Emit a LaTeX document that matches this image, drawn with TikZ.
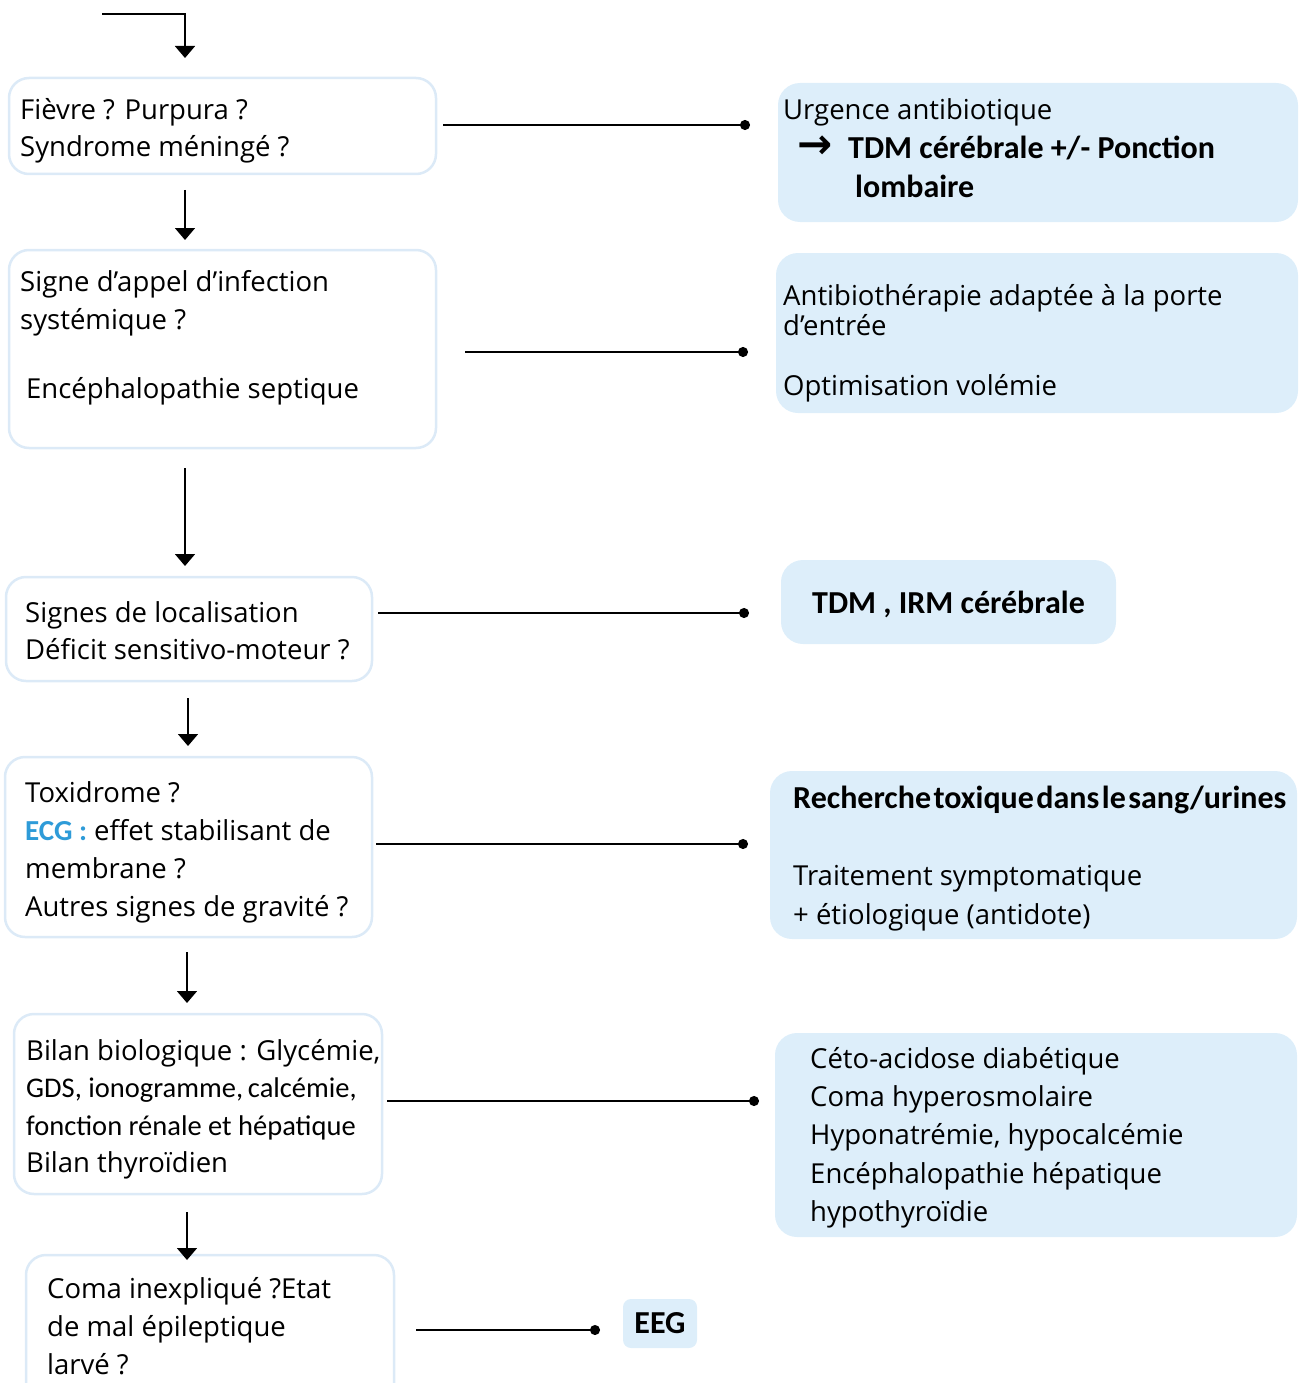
\documentclass[tikz,border=0pt]{standalone}
\usepackage{fontspec}
\setmainfont{Open Sans}
\newfontfamily\calfont{Carlito}
\newfontfamily\symfont{DejaVu Sans}
\usetikzlibrary{arrows.meta}
\definecolor{edgeblue}{HTML}{DCEAF7}
\definecolor{fillblue}{HTML}{DDEEFA}
\definecolor{ecgblue}{HTML}{2E9BD8}
\tikzset{
  qbox/.style={draw=edgeblue, line width=2.5pt, fill=white, rounded corners=20pt, inner sep=0pt},
  abox/.style={fill=fillblue, rounded corners=22pt, inner sep=0pt},
  txt/.style={anchor=base west, inner sep=0pt, font=\fontsize{27.5}{33}\selectfont},
  ctxt/.style={anchor=base west, inner sep=0pt, font=\calfont\fontsize{28.5}{33}\selectfont},
  btxt/.style={anchor=base west, inner sep=0pt, font=\calfont\bfseries\fontsize{32}{36}\selectfont},
  down/.style={line width=1.7pt, -{Triangle[width=20pt,length=12pt]}},
  conn/.style={line width=1.7pt, -{Circle[length=10pt]}},
}
\begin{document}
\begin{tikzpicture}[x=1pt,y=-1pt]
\useasboundingbox (0,0) rectangle (1301,1383);

% question boxes (left column)
\node[qbox, minimum width=427pt, minimum height=96pt]  (q1) at (222.5,126) {};
\node[qbox, minimum width=427pt, minimum height=198pt] (q2) at (222.5,349) {};
\node[qbox, minimum width=366pt, minimum height=104pt] (q3) at (189,629) {};
\node[qbox, minimum width=367pt, minimum height=180pt] (q4) at (188.5,847) {};
\node[qbox, minimum width=368pt, minimum height=180pt] (q5) at (198,1104) {};
\node[qbox, minimum width=368pt, minimum height=150pt] (q6) at (210,1330) {};

% answer boxes (right column)
\node[abox, minimum width=520pt, minimum height=139pt] (a1) at (1038,152.5) {};
\node[abox, minimum width=522pt, minimum height=160pt] (a2) at (1037,333) {};
\node[abox, minimum width=335pt, minimum height=84pt]  (a3) at (948.5,602) {};
\node[abox, minimum width=527pt, minimum height=168pt] (a4) at (1033.5,855) {};
\node[abox, minimum width=522pt, minimum height=204pt] (a5) at (1036,1135) {};
\node[abox, minimum width=74pt, minimum height=49pt, rounded corners=8pt] (a6) at (660,1323.5) {};

% texts of the question boxes
\node[txt] (t1a) at (20,120) {Fièvre ? Purpura ?};
\node[txt] (t1b) at (20,157) {Syndrome méningé ?};
\node[txt] (t2a) at (20,291) {Signe d’appel d’infection};
\node[txt] (t2b) at (20,329) {systémique ?};
\node[txt] (t2c) at (26,398) {Encéphalopathie septique};
\node[txt] (t3a) at (25,622) {Signes de localisation};
\node[txt] (t3b) at (25,659) {Déficit sensitivo-moteur ?};
\node[txt] (t4a) at (25,802) {Toxidrome ?};
\node[txt] (t4b) at (25,840) {{\calfont\bfseries\fontsize{29}{33}\selectfont\color{ecgblue}ECG :} effet stabilisant de};
\node[txt] (t4c) at (25,878) {membrane ?};
\node[txt] (t4d) at (25,916) {Autres signes de gravité ?};
\node[txt] (t5a) at (26,1060) {Bilan biologique : Glycémie,};
\node[ctxt] (t5b) at (26,1097) {GDS, ionogramme,\,calcémie,};
\node[ctxt] (t5c) at (26,1135) {fonction rénale et hépatique};
\node[txt] (t5d) at (26,1172) {Bilan thyroïdien};
\node[txt] (t6a) at (47,1298) {Coma inexpliqué ?Etat};
\node[txt] (t6b) at (47,1336) {de mal épileptique};
\node[txt] (t6c) at (47,1374) {larvé ?};

% texts of the answer boxes
\node[txt] (u1a) at (783,120) {Urgence antibiotique};
\node[anchor=base west, inner sep=0pt, font=\symfont\bfseries\fontsize{42}{44}\selectfont] (u1r) at (797,159) {→};
\node[btxt] (u1b) at (848,159) {TDM cérébrale +/- Ponction};
\node[btxt] (u1c) at (855,197) {lombaire};
\node[txt] (u2a) at (783,305) {Antibiothérapie adaptée à la porte};
\node[txt] (u2b) at (783,335) {d’entrée};
\node[txt] (u2c) at (783,395) {Optimisation volémie};
\node[btxt] (u3) at (812,613) {TDM , IRM cérébrale};
\node[btxt] (u4a) at (793,808) {Recherche\hspace{2.5pt}toxique\hspace{2.5pt}dans\hspace{2.5pt}le\hspace{2.5pt}sang/urines};
\node[txt] (u4b) at (793,885) {Traitement symptomatique};
\node[txt] (u4c) at (793,924) {+ étiologique (antidote)};
\node[txt] (u5a) at (810,1068) {Céto-acidose diabétique};
\node[txt] (u5b) at (810,1106) {Coma hyperosmolaire};
\node[txt] (u5c) at (810,1144) {Hyponatrémie, hypocalcémie};
\node[txt] (u5d) at (810,1183) {Encéphalopathie hépatique};
\node[txt] (u5e) at (810,1221) {hypothyroïdie};
\node[btxt, anchor=center] (u6) at (a6.center) {EEG};

% entry arrow
\coordinate (in0) at (102,14);
\coordinate (in1) at (185,14);
\draw[down] (in0) -- (in1) -- (185,58);

% downward arrows between question boxes
\draw[down] (185,190) -- (185,240);
\draw[down] (185,468) -- (185,566);
\draw[down] (188,698) -- (188,746);
\draw[down] (187,952) -- (187,1003);
\draw[down] (187,1212) -- (187,1260);

% connectors to the answer boxes
\coordinate (c1) at (443,125);  \coordinate (d1) at (750,125);
\coordinate (c2) at (465,352);  \coordinate (d2) at (748,352);
\coordinate (c3) at (378,613);  \coordinate (d3) at (749,613);
\coordinate (c4) at (376,844);  \coordinate (d4) at (748,844);
\coordinate (c5) at (387,1101); \coordinate (d5) at (759,1101);
\coordinate (c6) at (416,1330); \coordinate (d6) at (600,1330);
\foreach \i in {1,...,6} \draw[conn] (c\i) -- (d\i);
\end{tikzpicture}
\end{document}
